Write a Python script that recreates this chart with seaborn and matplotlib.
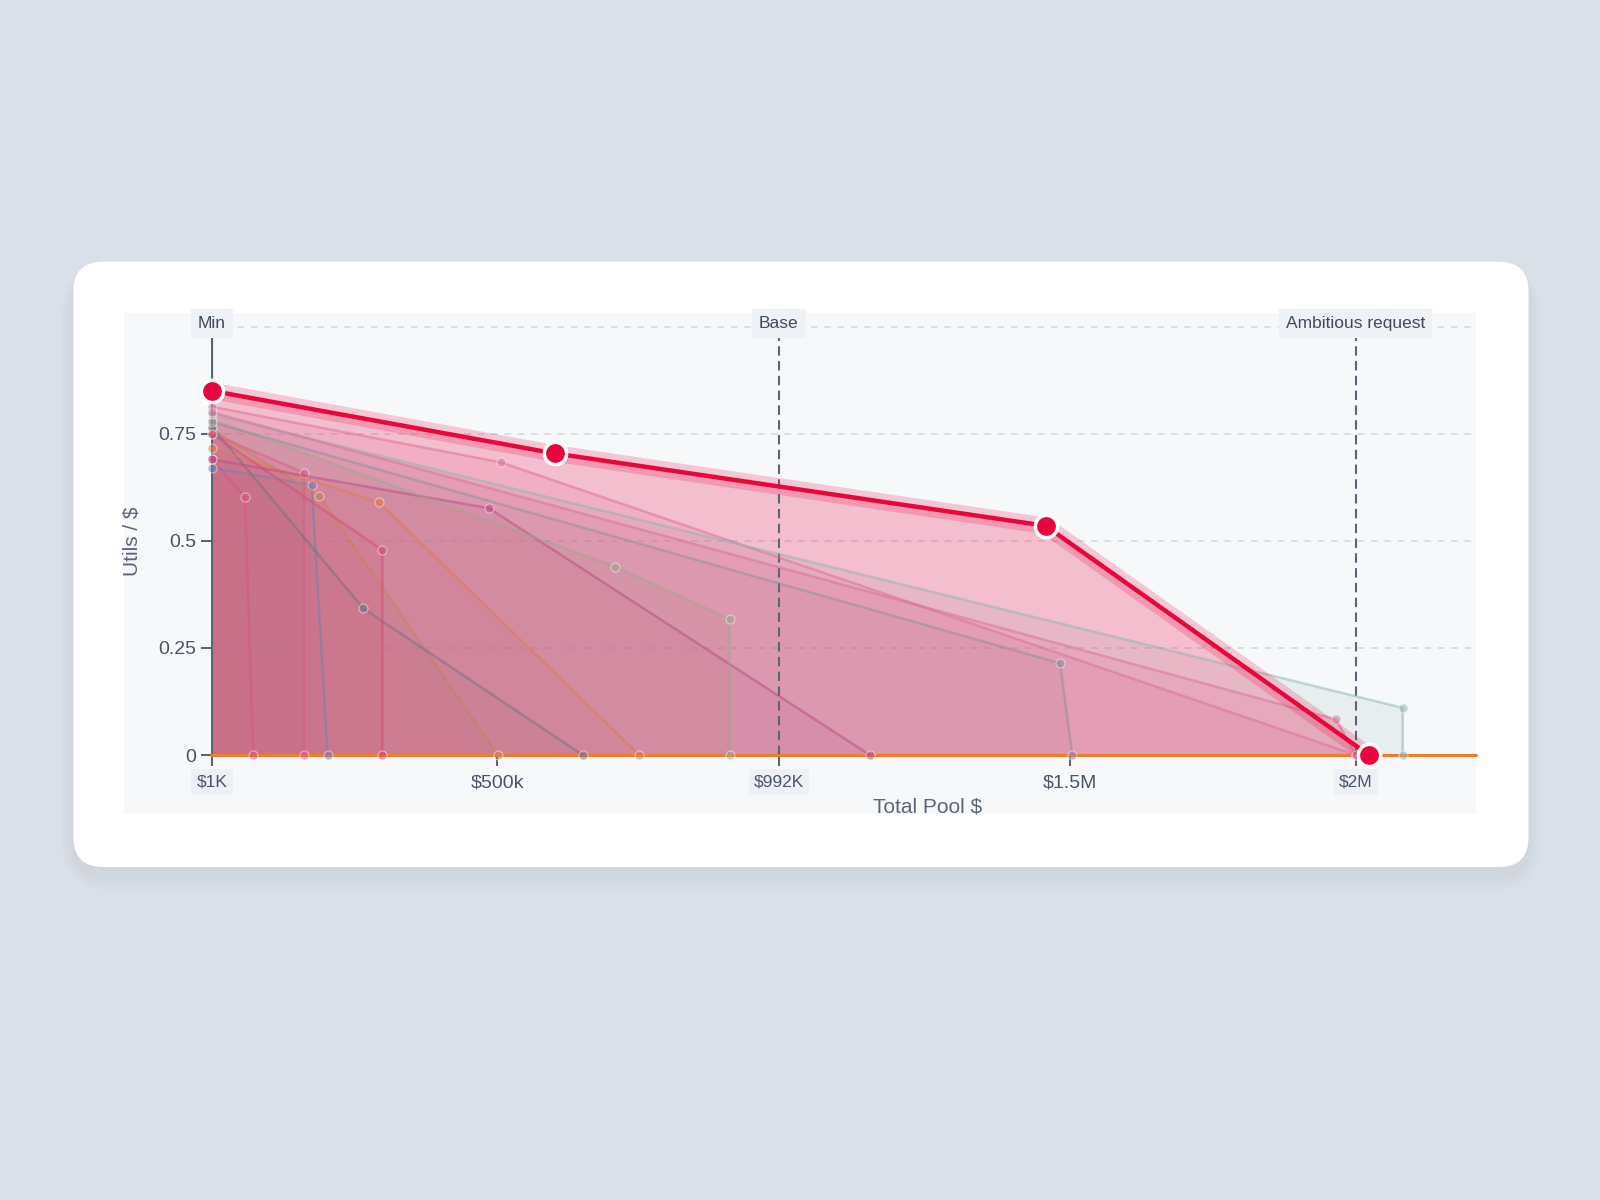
import numpy as np
import pandas as pd
import matplotlib
matplotlib.use("Agg")
import matplotlib.pyplot as plt
import matplotlib.transforms as mtransforms
from matplotlib.patches import FancyBboxPatch, Rectangle
import seaborn as sns

# ---------------- data ----------------
main_pool = [1000, 600000, 1458000, 2023000]
main_utils = [0.850, 0.704, 0.535, 0.0]

series_names = ["A", "B", "C", "D", "E", "F", "G", "H", "I", "J", "K", "L", "M"]
series_colors = ["#d8547f", "#d95a86", "#7480aa", "#c4825a", "#6f7184", "#e3784f",
                 "#d64a6c", "#b84a84", "#dc6a95", "#a0a68c", "#8d8e9c", "#8db3b3", "#d46e96"]
series_pool = [
    [1000, 58900, 73400],
    [1000, 162000, 162000],
    [1000, 175500, 203400],
    [1000, 188700, 500500],
    [1000, 265600, 649100],
    [1000, 293100, 748000],
    [1000, 298900, 298900],
    [1000, 485300, 1151000],
    [1000, 506300, 2000000],
    [1000, 705600, 906000, 906000],
    [1000, 1483400, 1504700],
    [1000, 2082000, 2082000],
    [1000, 1965600, 2000000],
]
series_utils = [
    [0.690, 0.603, 0.0],
    [0.750, 0.659, 0.0],
    [0.671, 0.630, 0.0],
    [0.760, 0.605, 0.0],
    [0.766, 0.342, 0.0],
    [0.716, 0.590, 0.0],
    [0.750, 0.4785, 0.0],
    [0.690, 0.576, 0.0],
    [0.813, 0.683, 0.0],
    [0.783, 0.4396, 0.3175, 0.0],
    [0.777, 0.214, 0.0],
    [0.795, 0.110, 0.0],
    [0.800, 0.083, 0.0],
]

ref_values = [1000, 992000, 2000000]
ref_labels = ["Min", "Base", "Ambitious request"]
xtick_values = [1000, 500000, 992000, 1500000, 2000000]
xtick_labels = ["\\$1K", "\\$500k", "\\$992K", "\\$1.5M", "\\$2M"]
boxed_ticks = [True, False, True, False, True]
ytick_values = [0, 0.25, 0.5, 0.75]
ytick_labels = ["0", "0.25", "0.5", "0.75"]
grid_levels = [0.25, 0.5, 0.75, 1.0]

# ---------------- style ----------------
sns.set_theme(style="white")
plt.rcParams["font.family"] = ["Liberation Sans", "DejaVu Sans"]

fig = plt.figure(figsize=(16, 12), dpi=100)
fig.patch.set_facecolor("#d9e0e8")

# decorative background (card + panel) in pixel coords
bg = fig.add_axes([0, 0, 1, 1], zorder=-10)
bg.set_xlim(0, 1600)
bg.set_ylim(1200, 0)
bg.axis("off")
cx0, cy0, cw, ch = 73.3, 261.7, 1455.3, 605.3
for i in range(10):
    g = 1 + i * 2.2
    bg.add_patch(FancyBboxPatch((cx0 - g * 0.6, cy0 - g * 0.3 + 10), cw + 1.2 * g, ch + g,
                                boxstyle="round,pad=0,rounding_size=%f" % (30 + g),
                                fc="#7a879a", ec="none", alpha=0.008))
bg.add_patch(FancyBboxPatch((cx0, cy0), cw, ch, boxstyle="round,pad=0,rounding_size=30",
                            fc="white", ec="none"))
bg.add_patch(Rectangle((124, 312.7), 1351.5, 501.3, fc="#f6f8fa", ec="none"))

# main axes
ax = fig.add_axes([211.3 / 1600, (1200 - 755) / 1200, 1264.2 / 1600, 442.3 / 1200])
ax.patch.set_alpha(0)
ax.set_xlim(0, 2209350)
ax.set_ylim(0, 1.0324)
for s in ["top", "right", "bottom", "left"]:
    ax.spines[s].set_visible(False)

# grid (under fills)
for lvl in grid_levels:
    ax.axhline(lvl, color="#d3d9e0", lw=1.2, ls=(0, (4, 4)), zorder=0.5)

# fills
for c, xs, ys in zip(series_colors, series_pool, series_utils):
    ax.fill_between(xs, ys, 0, color=c, alpha=0.14, lw=0, zorder=1)
ax.fill_between(main_pool, main_utils, 0, color="#ec2a5c", alpha=0.28, lw=0, zorder=1.5)

# reference lines
trans = mtransforms.blended_transform_factory(ax.transData, ax.transAxes)
for i, (v, lab) in enumerate(zip(ref_values, ref_labels)):
    if i == 0:
        ax.axvline(v, ymin=0, ymax=0.954, color="#5b6577", lw=1.6, zorder=3)
    else:
        ax.axvline(v, ymin=0, ymax=0.954, color="#5b6577", lw=1.5,
                   ls=(0, (4.5, 2.6)), zorder=3)
    ax.text(v, 0.976, lab, transform=trans, ha="center", va="center", fontsize=12.5,
            color="#3f4a5a", zorder=7,
            bbox=dict(boxstyle="square,pad=0.4", fc="#eef2f6", ec="none"))

# zero line
ax.axhline(0, color="#ef7b2c", lw=2.2, zorder=3.5, clip_on=False)

# sub series lines
rows = [(n, x, y) for n, xs, ys in zip(series_names, series_pool, series_utils)
        for x, y in zip(xs, ys)]
df = pd.DataFrame(rows, columns=["series", "pool", "utils"])
sns.lineplot(data=df, x="pool", y="utils", hue="series",
             palette=dict(zip(series_names, series_colors)), estimator=None, sort=False,
             marker="o", markersize=6.5, linewidth=1.8, alpha=0.5, legend=False, ax=ax,
             zorder=4, clip_on=False)

# main series
ax.plot(main_pool, main_utils, color="#e8063c", lw=12, alpha=0.2, zorder=5,
        solid_joinstyle="round")
main_df = pd.DataFrame({"pool": main_pool, "utils": main_utils})
sns.lineplot(data=main_df, x="pool", y="utils", color="#e8063c", linewidth=3.2,
             marker="o", markersize=16, markeredgecolor="white", markeredgewidth=2.5,
             estimator=None, sort=False, ax=ax, zorder=6, clip_on=False)

# ticks
ax.set_xticks(xtick_values)
ax.set_xticklabels(xtick_labels)
for lbl, boxed in zip(ax.get_xticklabels(), boxed_ticks):
    if boxed:
        lbl.set_fontsize(12.5)
        lbl.set_bbox(dict(boxstyle="square,pad=0.3", fc="#edf1f5", ec="none"))
    else:
        lbl.set_fontsize(14)
ax.set_yticks(ytick_values)
ax.set_yticklabels(ytick_labels)
ax.tick_params(axis="x", bottom=True, length=8, width=1.3, color="#4a5568",
               labelcolor="#4a5568", pad=6)
ax.tick_params(axis="y", left=True, length=7, width=1.3, color="#4a5568",
               labelcolor="#4a5568", labelsize=14, pad=4)

ax.set_xlabel("Total Pool \\$", fontsize=15, color="#5b6677")
ax.xaxis.set_label_coords(0.5665, -0.097)
ax.set_ylabel("Utils / \\$", fontsize=15, color="#5b6677")
ax.yaxis.set_label_coords(-0.055, 0.484)

fig.savefig("out.png", dpi=100, facecolor=fig.get_facecolor())
